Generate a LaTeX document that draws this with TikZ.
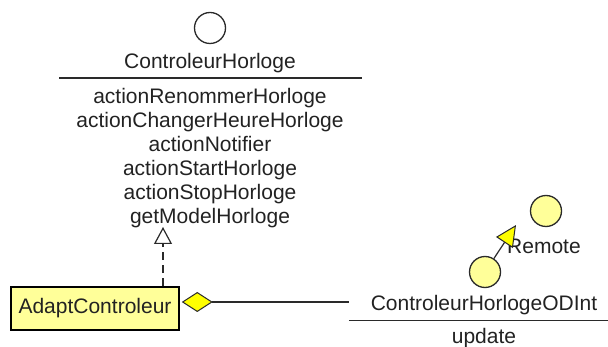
\documentclass[tikz,border=0pt]{standalone}
\usepackage{fontspec}
\setmainfont{Liberation Sans}
\usepackage{xcolor}
\usepackage{tikz}
\usetikzlibrary{positioning,arrows.meta}

\definecolor{classfill}{HTML}{FFFF99}
\definecolor{tipfill}{HTML}{FFFF00}
\definecolor{umlline}{HTML}{2A2A2A}

\begin{document}
\begin{tikzpicture}[
  x=1pt, y=-1pt,
  every node/.style={font=\fontsize{21}{24}\selectfont, text=umlline!80!black, inner sep=0pt},
  icon/.style={circle, draw=umlline, line width=1.3pt, minimum size=31pt, fill=#1},
  cls/.style={draw=black, line width=1.5pt, fill=classfill, minimum width=168pt, minimum height=43pt},
  rule/.style={draw=umlline, line width=1.3pt},
  realize/.style={draw=umlline, line width=1.2pt, dash pattern=on 8pt off 5pt,
                  -{Triangle[open, length=17pt, width=18pt, line width=1.2pt]}},
  aggr/.style={draw=umlline, line width=1.2pt,
               {Diamond[fill=tipfill, length=31pt, width=20pt, line width=1pt]}-, shorten <=2pt},
  gen/.style={draw=umlline, line width=1.2pt,
              -{Triangle[fill=tipfill, length=21pt, width=20pt, line width=1pt]}}
]
  \useasboundingbox (0,0) rectangle (608,347);

  % Interface ControleurHorloge
  \node[icon=white] (ctrlIcon) at (210,28) {};
  \node (ctrlName) at (210,63) {ControleurHorloge};
  \draw[rule] (59,78) -- (362,78);
  \node[anchor=north, align=center] (ctrlOps) at (210,88) {
    actionRenommerHorloge\\
    actionChangerHeureHorloge\\
    actionNotifier\\
    actionStartHorloge\\
    actionStopHorloge\\
    getModelHorloge
  };

  % Adapter class
  \node[cls] (adapt) at (95,308.5) {AdaptControleur};

  % ControleurHorlogeODInt
  \node[minimum width=270pt, minimum height=30pt] (odName) at (484,305) {ControleurHorlogeODInt};
  \draw[rule] (odName.south west) -- (odName.south east);
  \node (odOps) at (484,338) {update};
  \node[icon=classfill] (odIcon) at (485,272) {};
  \node[icon=classfill] (remoteIcon) at (546,211) {};
  \node (remoteLbl) at (544,246) {Remote};

  % Relations
  \coordinate (realTip) at (163,227);
  \draw[realize] (adapt.north -| realTip) -- (realTip);
  \draw[aggr] ([yshift=6.5pt]adapt.east) -- ([yshift=6.5pt]adapt.east -| odName.west);
  \coordinate (remoteTip) at (516,225);
  \draw[gen] (odIcon) -- (remoteTip);
\end{tikzpicture}
\end{document}
